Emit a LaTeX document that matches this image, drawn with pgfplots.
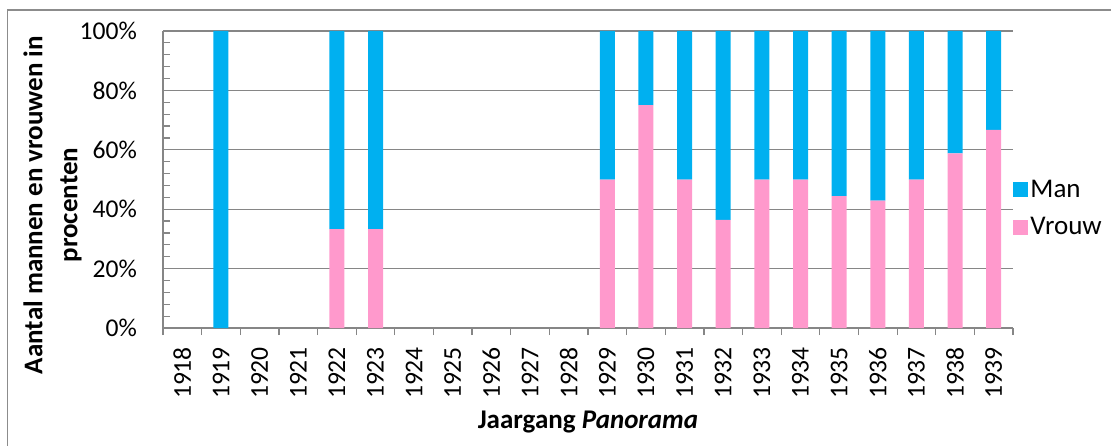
\documentclass[border=0pt]{standalone}
\usepackage{pgfplots}
\pgfplotsset{compat=1.18}
\usepackage{fontspec}
\setmainfont{Carlito}

\definecolor{manblue}{HTML}{00B0F0}
\definecolor{vrouwpink}{HTML}{FF99CC}
\definecolor{gridgray}{HTML}{868686}
\definecolor{framegray}{HTML}{8C8C8C}

\begin{document}
\begin{tikzpicture}
\useasboundingbox (0,0) rectangle (555.5pt,222.5pt);
\draw[framegray, line width=0.6pt] (3.75pt,-20pt) rectangle (600pt,217.5pt);
\begin{axis}[
  at={(81.5pt,58.5pt)}, anchor=south west,
  width=425pt, height=148.5pt, scale only axis,
  ybar stacked, bar width=7.5pt,
  xmin=-0.5, xmax=21.5, ymin=0, ymax=100,
  enlargelimits=false,
  axis x line*=bottom, axis y line*=left,
  axis line style={gridgray, line width=0.6pt},
  xtick={0,...,21},
  xticklabels={1918,1919,1920,1921,1922,1923,1924,1925,1926,1927,1928,1929,1930,1931,1932,1933,1934,1935,1936,1937,1938,1939},
  minor xtick={-0.5,0.5,...,21.5},
  ytick={0,20,...,100},
  minor y tick num=4,
  major tick length=0pt, minor tick length=3.5pt,
  xtick align=outside, ytick align=inside,
  tick style={gridgray, line width=0.6pt},
  ymajorgrids, grid style={gridgray, line width=0.6pt},
  yticklabel={\pgfmathparse{\tick}\pgfmathprintnumber[fixed,precision=0]{\pgfmathresult}\%},
  /pgf/number format/assume math mode=true,
  tick label style={font=\fontsize{12.8}{15}\selectfont, black},
  yticklabel style={xshift=-9.5pt},
  xticklabel style={rotate=90, anchor=east, xshift=-6pt},
  xlabel={\textbf{Jaargang \textit{Panorama}}},
  ylabel={\textbf{Aantal mannen en vrouwen in}\\\textbf{procenten}},
  every axis x label/.style={at={(axis description cs:0.5,-0.3165)}, anchor=center, font=\fontsize{13.5}{15}\selectfont},
  every axis y label/.style={at={(axis description cs:-0.13,0.414)}, rotate=90, anchor=center, align=center, font=\fontsize{13.5}{17.5}\selectfont},
  reverse legend,
  legend image code/.code={\fill[#1] (0pt,-3.75pt) rectangle (7.5pt,3.75pt);},
  legend style={draw=none, fill=none, at={(1.0,0.402)}, anchor=west,
    inner sep=0pt, row sep=6.5pt, font=\fontsize{13.5}{15}\selectfont,
    nodes={inner sep=1pt, anchor=west}},
]
\addplot[fill=vrouwpink, draw=none] coordinates {
  (1,0) (4,33.3) (5,33.3) (11,50) (12,75) (13,50) (14,36.4)
  (15,50) (16,50) (17,44.4) (18,42.9) (19,50) (20,58.8) (21,66.7)
};
\addlegendentry{Vrouw}
\addplot[fill=manblue, draw=none] coordinates {
  (1,100) (4,66.7) (5,66.7) (11,50) (12,25) (13,50) (14,63.6)
  (15,50) (16,50) (17,55.6) (18,57.1) (19,50) (20,41.2) (21,33.3)
};
\addlegendentry{Man}
\end{axis}
\end{tikzpicture}
\end{document}
